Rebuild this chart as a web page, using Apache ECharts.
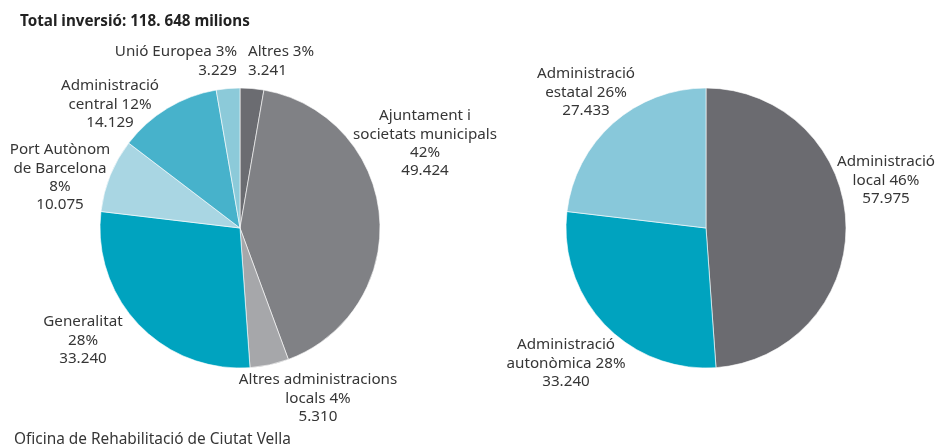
<!DOCTYPE html>
<html>
<head>
<meta charset="utf-8">
<script src="https://cdn.jsdelivr.net/npm/echarts@6/dist/echarts.min.js"></script>
<style>
  html, body { margin: 0; padding: 0; background: #fff; }
  #chart { width: 936px; height: 445px; }
</style>
</head>
<body>
<div id="chart"></div>
<script>
// left pie: investment by funding source (milions)
var sourceNames = ['Altres', 'Ajuntament i societats municipals', 'Altres administracions locals',
    'Generalitat', 'Port Autònom de Barcelona', 'Administració central', 'Unió Europea'];
var sourceValues = [3241, 49424, 5310, 33240, 10075, 14129, 3229];
var sourcePct = [3, 42, 4, 28, 8, 12, 3];
var sourceLabels = ['Altres {p}%\n{v}', 'Ajuntament i\nsocietats municipals\n{p}%\n{v}',
    'Altres administracions\nlocals {p}%\n{v}', 'Generalitat\n{p}%\n{v}',
    'Port Autònom\nde Barcelona\n{p}%\n{v}', 'Administració\ncentral {p}%\n{v}', 'Unió Europea {p}%\n{v}'];

// right pie: by administration level
var levelNames = ['Administració local', 'Administració autonòmica', 'Administració estatal'];
var levelValues = [57975, 33240, 27433];
var levelPct = [46, 28, 26];
var levelLabels = ['Administració\nlocal {p}%\n{v}', 'Administració\nautonòmica {p}%\n{v}',
    'Administració\nestatal {p}%\n{v}'];

var sourceColors = ['#6b6c71', '#808185', '#a6a7aa', '#00a3bf', '#a9d6e3', '#47b2cb', '#8ccad9'];
var levelColors = ['#6b6b70', '#00a3bf', '#88c8da'];

// label anchor spots [x, top, align]
var sourceSpots = [[248, 43, 'left'], [425, 107, 'center'], [318, 371, 'center'], [83, 313, 'center'],
    [60, 141, 'center'], [110, 77, 'center'], [237, 43, 'right']];
var levelSpots = [[886, 153, 'center'], [566, 336, 'center'], [586, 65, 'center']];

var FONT = 'Noto Sans';

function fmtNum(n) {
    var s = String(n);
    return s.length > 3 ? s.slice(0, s.length - 3) + '.' + s.slice(-3) : s;
}

function buildData(names, values, colors) {
    var out = [];
    for (var i = 0; i < names.length; i++) {
        out.push({name: names[i], value: values[i], itemStyle: {color: colors[i]}});
    }
    return out;
}

function makeSeries(names, values, colors, pct, labels, spots, cx) {
    return {
        type: 'pie',
        center: [cx, 228],
        radius: 140,
        startAngle: 90,
        clockwise: true,
        animation: false,
        silent: true,
        data: buildData(names, values, colors),
        itemStyle: {borderColor: '#ffffff', borderWidth: 0.6},
        label: {
            show: true,
            position: 'outside',
            overflow: 'none',
            color: '#363636',
            fontFamily: FONT,
            fontSize: 15.2,
            lineHeight: 18.3,
            formatter: function (p) {
                return labels[p.dataIndex].replace('{p}', pct[p.dataIndex])
                    .replace('{v}', fmtNum(values[p.dataIndex]));
            }
        },
        labelLine: {show: false},
        labelLayout: function (p) {
            var s = spots[p.dataIndex];
            return {x: s[0], y: s[1], align: s[2], verticalAlign: 'top'};
        }
    };
}

var chart = echarts.init(document.getElementById('chart'), null, {renderer: 'canvas'});
chart.setOption({
    backgroundColor: '#ffffff',
    title: [
        {
            text: 'Total inversió: 118. 648 milions',
            left: 20, top: 14, padding: 0,
            textStyle: {fontFamily: FONT, fontSize: 15.2, fontWeight: 'bold', color: '#222'}
        },
        {
            text: 'Oficina de Rehabilitació de Ciutat Vella',
            left: 14, top: 432, padding: 0,
            textStyle: {fontFamily: FONT, fontSize: 15.4, fontWeight: 'normal', color: '#363636'}
        }
    ],
    series: [
        makeSeries(sourceNames, sourceValues, sourceColors, sourcePct, sourceLabels, sourceSpots, 240),
        makeSeries(levelNames, levelValues, levelColors, levelPct, levelLabels, levelSpots, 706)
    ]
});
</script>
</body>
</html>
